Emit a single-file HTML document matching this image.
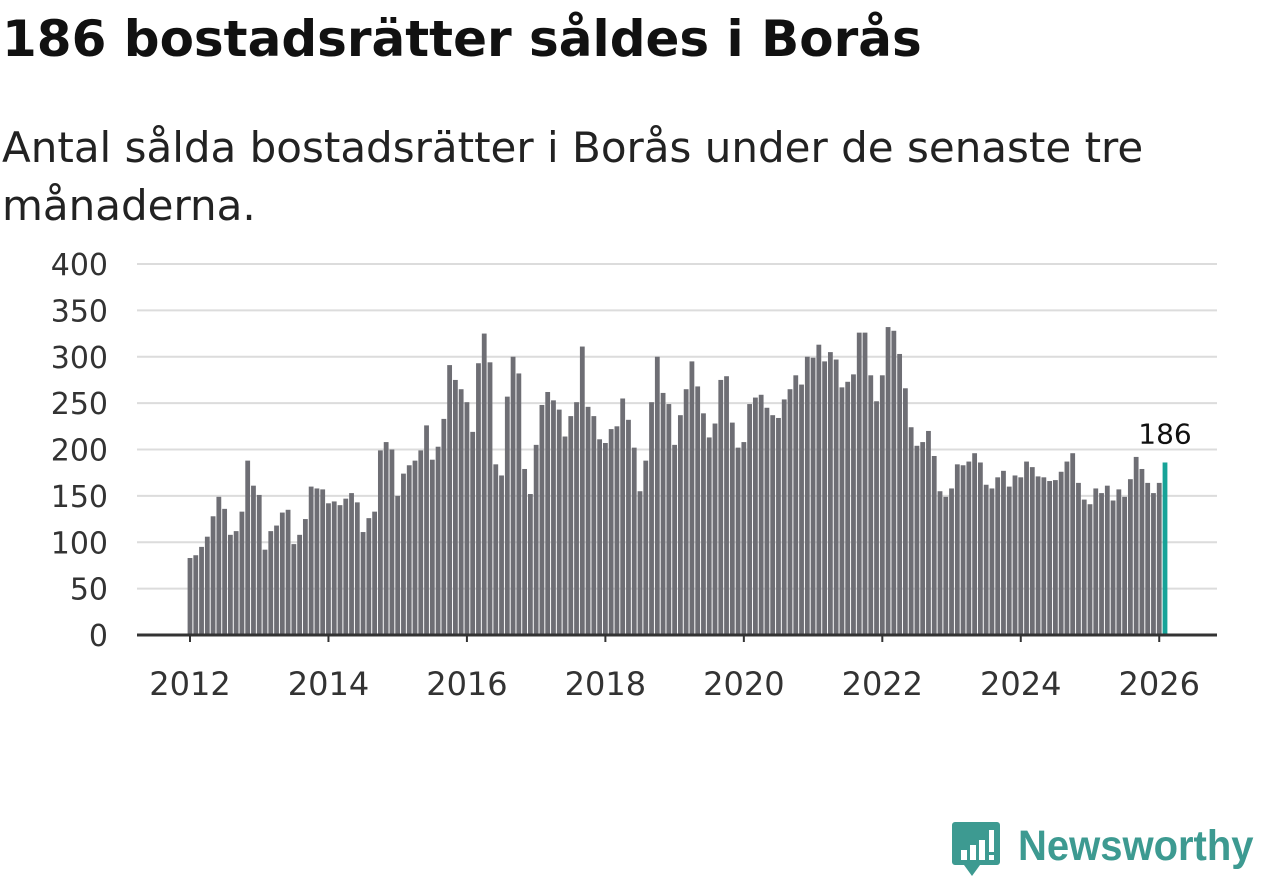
<!DOCTYPE html>
<html><head><meta charset="utf-8"><style>
body{margin:0;width:1262px;height:879px;background:#fff;overflow:hidden;font-family:"DejaVu Sans","Liberation Sans",sans-serif;}
h1{position:absolute;left:2px;top:10px;margin:0;font-size:50px;font-weight:bold;color:#111;font-family:"DejaVu Sans",sans-serif;white-space:nowrap}
.sub{position:absolute;left:2px;top:119px;margin:0;font-size:42px;line-height:58px;color:#222;width:1260px;font-family:"DejaVu Sans",sans-serif;white-space:nowrap}
svg{position:absolute;left:0;top:0}
</style></head><body>
<h1>186 bostadsrätter såldes i Borås</h1>
<p class="sub">Antal sålda bostadsrätter i Borås under de senaste tre<br>månaderna.</p>
<svg id="chart" width="1262" height="879"></svg>
<div style="position:absolute;left:952px;top:820px;width:310px;height:58px">
<svg width="50" height="58" style="position:absolute;left:0;top:0"><path d="M3 2h42a3 3 0 0 1 3 3v37a3 3 0 0 1-3 3H28l-8 11-8-11H3a3 3 0 0 1-3-3V5a3 3 0 0 1 3-3z" fill="#3d9a91"/><rect x="9" y="30" width="6" height="10" fill="#fff"/><rect x="18" y="25" width="6" height="15" fill="#fff"/><rect x="27" y="20" width="6" height="20" fill="#fff"/><rect x="37" y="10" width="5" height="22" fill="#fff"/><rect x="37" y="35" width="5" height="5" fill="#fff"/></svg>
<span style="position:absolute;left:66px;top:2px;font-size:43px;font-weight:bold;color:#3d9a91;font-family:'Liberation Sans',sans-serif;transform:scaleX(0.93);transform-origin:0 0;white-space:nowrap">Newsworthy</span>
</div>
<script>
const values=[83,86,95,106,128,149,136,108,112,133,188,161,
151,92,112,118,132,135,98,108,125,160,158,157,
142,144,140,147,153,143,111,126,133,199,208,200,
150,174,183,188,199,226,189,203,233,291,275,265,
251,219,293,325,294,184,172,257,300,282,179,152,
205,248,262,253,243,214,236,251,311,246,236,211,
207,222,225,255,232,202,155,188,251,300,261,249,
205,237,265,295,268,239,213,228,275,279,229,202,
208,249,256,259,245,237,234,254,265,280,270,300,
299,313,295,305,297,267,273,281,326,326,280,252,
280,332,328,303,266,224,204,208,220,193,155,149,
158,184,183,187,196,186,162,158,170,177,160,172,
170,187,181,171,170,166,167,176,187,196,164,146,
141,158,153,161,145,157,149,168,192,179,164,153,
164,186];
const startYear=2012;
const yTicks=[0,50,100,150,200,250,300,350,400];
const xTicks=[2012,2014,2016,2018,2020,2022,2024,2026];
const NS="http://www.w3.org/2000/svg";
const svg=document.getElementById('chart');
const y=v=>635-v*(371/400);
const x=i=>190+i*(975/169);
const xYear=yr=>x((yr-startYear)*12);
const FF='DejaVu Sans, Liberation Sans, sans-serif';
function mk(t,a){const e=document.createElementNS(NS,t);for(const k in a)e.setAttribute(k,a[k]);svg.appendChild(e);return e;}
yTicks.forEach(t=>{
 if(t>0){const g=mk('line',{x1:137,x2:1217,y1:y(t),y2:y(t),stroke:'#dcdcdc','stroke-width':2});
 
 }
 const l=mk('text',{x:108,y:y(t)+11,'text-anchor':'end','font-size':30,fill:'#333','font-family':FF});
 l.textContent=t;
 
 
});
values.forEach((v,i)=>{
 const last=i===values.length-1;
 const r=mk('rect',{x:x(i)-2.4,y:y(v),width:4.8,height:635-y(v),fill:last?'#17a398':'#6e6e74'});
 
 
});
const lv=values[values.length-1];
const lab=mk('text',{x:x(values.length-1),y:y(lv)-19,'text-anchor':'middle','font-size':28,fill:'#111','font-family':FF});
lab.textContent=lv;


const ax=mk('line',{x1:137,x2:1217,y1:635,y2:635,stroke:'#333','stroke-width':3});


xTicks.forEach(t=>{
 const tk=mk('line',{x1:xYear(t),x2:xYear(t),y1:635,y2:642,stroke:'#333','stroke-width':2});
 
 
 const l=mk('text',{x:xYear(t),y:695,'text-anchor':'middle','font-size':32,fill:'#333','font-family':FF});
 l.textContent=t;
 
 
});
</script>
</body></html>
